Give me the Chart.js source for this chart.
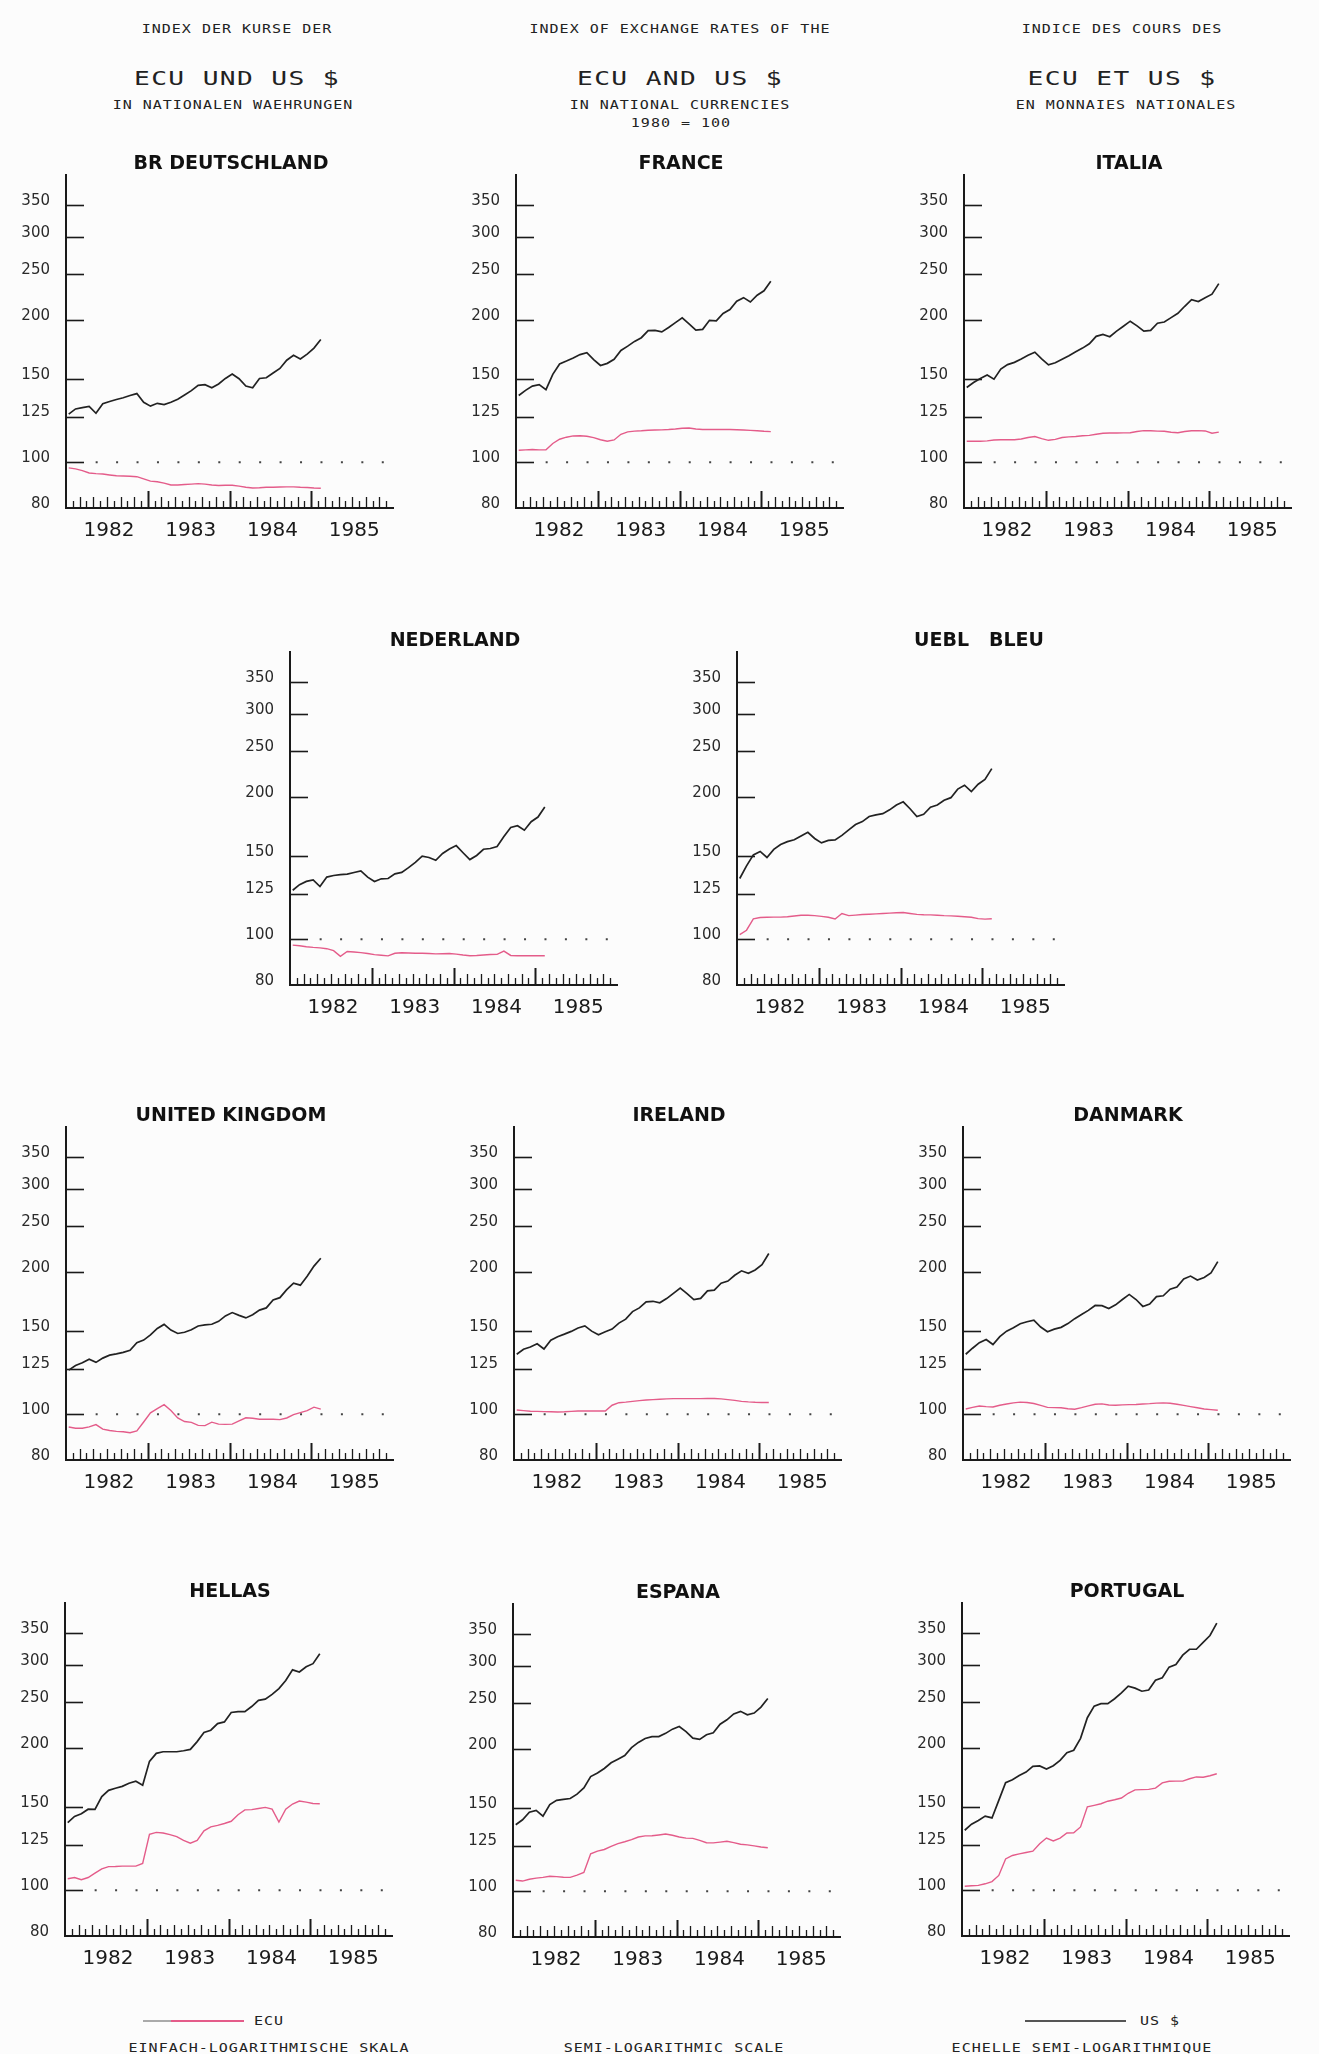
<!DOCTYPE html>
<html>
<head>
<meta charset="utf-8">
<title>ECU und US $</title>
<script src="https://cdn.jsdelivr.net/npm/chart.js@4.4.0/dist/chart.umd.min.js"></script>
<style>
  html, body { margin: 0; padding: 0; }
  body {
    width: 1319px; height: 2054px; position: relative; overflow: hidden;
    background: #fcfcfc; color: #222;
    font-family: "DejaVu Sans Mono", monospace;
  }
  .panel { position: absolute; width: 410px; height: 430px; }
  .txt {
    position: absolute; white-space: pre; line-height: 1;
    font-size: 12px; letter-spacing: 0.8px;
    transform: translate(-50%, -50%) scaleX(1.25);
  }
  .big {
    font-size: 19px; letter-spacing: 1px;
    transform: translate(-50%, -50%) scaleX(1.38);
  }
  .key { position: absolute; height: 2px; }
</style>
</head>
<body>

<!-- header, three languages -->
<div class="txt" style="left:237px;top:29px">INDEX DER KURSE DER</div>
<div class="txt big" style="left:237px;top:78px">ECU UND US $</div>
<div class="txt" style="left:233px;top:105px">IN NATIONALEN WAEHRUNGEN</div>

<div class="txt" style="left:680px;top:29px">INDEX OF EXCHANGE RATES OF THE</div>
<div class="txt big" style="left:680px;top:78px">ECU AND US $</div>
<div class="txt" style="left:680px;top:105px">IN NATIONAL CURRENCIES</div>
<div class="txt" style="left:681px;top:123px">1980 = 100</div>

<div class="txt" style="left:1122px;top:29px">INDICE DES COURS DES</div>
<div class="txt big" style="left:1122px;top:78px">ECU ET US $</div>
<div class="txt" style="left:1126px;top:105px">EN MONNAIES NATIONALES</div>

<!-- legend + footer -->
<div class="key" style="left:143px;top:2020px;width:28px;background:#aaa"></div>
<div class="key" style="left:171px;top:2020px;width:73px;background:#e45c8a"></div>
<div class="txt" style="left:269px;top:2021px">ECU</div>
<div class="key" style="left:1025px;top:2020px;width:101px;background:#555"></div>
<div class="txt" style="left:1160px;top:2021px">US $</div>

<div class="txt" style="left:269px;top:2048px">EINFACH-LOGARITHMISCHE SKALA</div>
<div class="txt" style="left:674px;top:2048px">SEMI-LOGARITHMIC SCALE</div>
<div class="txt" style="left:1082px;top:2048px">ECHELLE SEMI-LOGARITHMIQUE</div>

<script>
// monthly values, Jan 1982 - Feb 1985, index 1980 = 100
const years = ['1982', '1983', '1984', '1985'];
const yTickValues = [80, 100, 125, 150, 200, 250, 300, 350];
const monthPos = Array.from({ length: 38 }, (_, i) => i + 0.4);

const deUsd = [126.5,129.7,130.5,131.3,127,133,134.5,135.8,137,138.5,139.8,134,131.5,133.3,132.5,134,136,138.8,141.8,145.5,146,143.8,146.5,150.5,153.8,150.3,145,143.8,150.5,151,154.5,158,164.5,168.5,165.5,169.5,174.5,182];
const deEcu = [97.3,96.8,96,94.9,94.6,94.4,94,93.6,93.5,93.4,93.2,92.2,91.2,90.9,90.3,89.5,89.5,89.7,89.9,90.1,89.9,89.5,89.3,89.4,89.4,89,88.5,88.2,88.3,88.5,88.5,88.6,88.7,88.7,88.5,88.4,88.2,88.1];

const frUsd = [138.5,142,145,146,142.5,153.5,161.5,163.8,166.3,169.1,170.6,165,160.3,162,165.2,172.5,176.2,180.3,183.6,190,190.3,188.9,193,197.6,202.2,196.5,190.5,191.2,199.8,199.3,206.7,210.6,219.4,223.2,218.5,225.9,230.8,241.8];
const frEcu = [106,106.2,106.4,106.2,106.3,109.6,111.9,113,113.7,113.8,113.5,112.8,111.6,110.8,111.5,114.6,116,116.4,116.6,116.9,117,117.1,117.3,117.6,118,118.2,117.6,117.3,117.3,117.3,117.3,117.3,117.2,117,116.8,116.6,116.3,116.1];

const itUsd = [144,147.5,150.5,153,150,157.5,161,162.8,165.5,168.5,171,165.5,160.8,162.5,165.3,168.2,171.5,174.5,178.2,184.8,186.5,184.5,189.6,194.2,199,194.5,189.5,190.3,197,198.2,202.5,206.8,214,221,219,223.2,227,239];
const itEcu = [110.8,110.8,110.8,111,111.5,111.6,111.6,111.6,112,112.8,113.4,112.2,111.3,111.8,112.8,113.2,113.4,113.8,114,114.6,115.2,115.3,115.3,115.4,115.5,116.2,116.7,116.6,116.4,116.3,115.8,115.5,116.2,116.6,116.7,116.5,115.2,115.8];

const nlUsd = [127,130.5,132.6,133.6,129.3,135.4,136.5,137,137.4,138.5,139.6,135.4,132.5,134.3,134.5,137.6,138.6,141.8,145.5,150,149,147,152,155.3,157.9,152.5,147.5,150.5,155.1,155.7,157.2,165,172.5,174,170.2,177.4,181.5,190.7];
const nlEcu = [97.2,96.9,96.4,96.1,95.9,95.5,94.6,92,94.2,94,93.7,93.3,92.8,92.5,92.2,93.4,93.6,93.5,93.4,93.4,93.3,93.1,93.2,93.3,93,92.6,92.3,92.4,92.6,92.8,92.9,94.4,92.4,92.3,92.3,92.3,92.3,92.3];

const beUsd = [134.5,143,150.9,153.5,149,155,158.8,161,162.5,165.5,168.5,163.5,160,162,162.3,166,170.5,175,177.5,182,183.5,184.5,188,192.5,195.5,189,182,184,190.5,192.5,197,199.5,208,212,205.5,213,218,229.9];
const beEcu = [102.3,104.5,110.5,111.2,111.3,111.4,111.4,111.6,112,112.4,112.4,112.2,111.8,111.3,110.4,113.4,112.2,112.5,112.8,113,113.2,113.4,113.6,113.8,113.9,113.4,112.9,112.7,112.6,112.4,112.2,112.1,111.9,111.6,111.3,110.6,110.3,110.5];

const ukUsd = [124,126.8,128.5,130.8,128.8,131.5,133.4,134.2,135.2,136.6,141.8,143.6,147.3,152,155,150.8,148.3,149.2,151,153.8,154.6,155.1,157.3,161.6,164.2,162,160,162.5,166.2,168,174.6,176.6,183.6,189.6,187.7,196,206,214];
const ukEcu = [94,93.4,93.4,94,95.1,93,92.4,92,91.8,91.4,92.2,96.3,100.7,102.8,104.8,101.8,98.2,96.5,96.1,94.7,94.6,96.2,95.3,95.2,95.3,96.8,98.3,98.1,97.6,97.6,97.6,97.4,98.2,99.8,100.8,101.8,103.5,102.5];

const ieUsd = [134,137.3,138.8,141,137.5,143.5,146,147.8,149.8,152.3,153.9,150,147.3,149.5,151.5,156,159,165,168,173,173.5,172.2,175.8,180.4,185,180.2,174.9,176,182.5,183.2,189.5,191.5,197,201.3,198.9,202.2,207.5,219];
const ieEcu = [102.1,101.8,101.5,101.4,101.3,101.2,101.1,101.2,101.4,101.6,101.6,101.6,101.6,101.6,104.5,105.8,106.1,106.5,106.9,107.2,107.4,107.6,107.8,107.9,107.9,107.9,107.9,107.9,108,108,107.8,107.4,107,106.5,106.2,106,105.9,105.9];

const dkUsd = [134,138,141.8,144,140.5,146,150,152.5,155.5,157,158.3,153,149.6,151.5,152.8,155.6,159.4,162.6,166,170,169.8,167.5,170.5,175,179.4,175,169.2,171.2,177.5,178.2,184,186,193.5,196.2,192.4,194.8,199.2,210.5];
const dkEcu = [102.6,103.4,104.1,103.8,103.6,104.5,105.1,105.7,106.1,105.9,105.4,104.4,103.4,103.3,103.2,102.7,102.5,103.3,104.2,105,105.2,104.6,104.5,104.7,104.8,104.9,105.1,105.3,105.6,105.7,105.5,105,104.4,103.8,103.2,102.6,102.3,102];

const grUsd = [139,143.3,145.2,148.5,148.3,157.9,162.8,164.5,166,168.5,170.2,167,187.5,195,196.5,196.5,196.5,197.5,198.8,206.5,216,218.3,225.5,227.3,238,239,239,245,252.5,254,260,267.5,278.2,293,290,297.5,302,317];
const grEcu = [105.8,106.4,105.3,106.4,108.7,111,112.2,112.3,112.5,112.5,112.5,114,131.4,132.6,132.2,131.2,129.9,127.5,125.8,127.5,133.6,136.2,137.2,138.5,140,144.5,148,148.2,149,149.8,148.5,139.5,148.5,152.3,154.5,153.7,152.7,152.5];

const esUsd = [138.3,141.7,147,148.4,144.2,152.6,155.8,156.6,157.2,160.6,165.6,175,178,182,187.1,190.5,193.8,201.5,206.7,210.7,212.6,212.6,216,220.5,223.3,217.8,211,209.8,214.6,216.7,225.9,230.8,237.5,240.5,236.4,238.5,245.5,256];
const esEcu = [105.5,105.1,106,106.6,107,107.6,107.4,107.1,107,108.2,109.6,120,121.6,122.6,124.5,126.2,127.3,128.6,130.3,131,131.1,131.6,132.2,131.4,130.3,129.6,129.4,128.2,126.7,126.6,127.1,127.6,126.8,125.8,125.4,124.8,124.1,123.6];

const ptUsd = [134,138,140.5,143.6,142.3,155,169,171.5,175,178,183,183.4,180.6,183.6,188.4,195.6,198,209.8,232,245.5,248.5,248.5,254.5,262,270.5,268,264,265.5,278.5,282,297,300.8,314.8,324,324,335,346.5,368];
const ptEcu = [102,102.2,102.4,103.2,104.3,107.5,116.5,118.5,119.4,120.2,121,125.5,129,127.2,129,132.2,132.3,136.2,150.2,151.3,152.5,154.4,155.5,156.8,160.5,163.2,163.4,163.6,164.6,168.8,170.2,170.3,170.3,172.3,173.8,173.5,174.8,176.5];

// ox/oy = where the two axes meet on the page
const panels = [
  { title: 'BR DEUTSCHLAND', usd: deUsd, ecu: deEcu, ox: 66,  oy: 508 },
  { title: 'FRANCE',         usd: frUsd, ecu: frEcu, ox: 516, oy: 508 },
  { title: 'ITALIA',         usd: itUsd, ecu: itEcu, ox: 964, oy: 508 },
  { title: 'NEDERLAND',      usd: nlUsd, ecu: nlEcu, ox: 290, oy: 985 },
  { title: 'UEBL   BLEU',    usd: beUsd, ecu: beEcu, ox: 737, oy: 985, dx: 242 },
  { title: 'UNITED KINGDOM', usd: ukUsd, ecu: ukEcu, ox: 66,  oy: 1460 },
  { title: 'IRELAND',        usd: ieUsd, ecu: ieEcu, ox: 514, oy: 1460 },
  { title: 'DANMARK',        usd: dkUsd, ecu: dkEcu, ox: 963, oy: 1460 },
  { title: 'HELLAS',         usd: grUsd, ecu: grEcu, ox: 65,  oy: 1936 },
  { title: 'ESPANA',         usd: esUsd, ecu: esEcu, ox: 513, oy: 1937 },
  { title: 'PORTUGAL',       usd: ptUsd, ecu: ptEcu, ox: 962, oy: 1936 }
];

const INK = '#1a1a1a';
const ECU_PINK = '#e45c8a';

// inward tick marks, month ticks, the dotted 100 line and the country name
const frameMarks = {
  id: 'frameMarks',
  beforeDatasetsDraw(chart) {
    const { ctx, chartArea: a, scales: { x, y } } = chart;
    ctx.save();
    ctx.strokeStyle = INK;
    ctx.lineWidth = 1.6;
    yTickValues.forEach(v => {
      if (v === 80) return;
      const py = Math.round(y.getPixelForValue(v)) + 0.5;
      ctx.beginPath();
      ctx.moveTo(a.left, py);
      ctx.lineTo(a.left + 18, py);
      ctx.stroke();
    });
    for (let m = 1; m < 48; m++) {
      const px = Math.round(x.getPixelForValue(m)) + 0.5;
      const big = m % 12 === 0;
      const h = big ? 17 : (m % 2 === 0 ? 11 : 7);
      ctx.lineWidth = big ? 2 : 1.3;
      ctx.beginPath();
      ctx.moveTo(px, a.bottom);
      ctx.lineTo(px, a.bottom - h);
      ctx.stroke();
    }
    ctx.fillStyle = '#444';
    const p100 = y.getPixelForValue(100);
    for (let m = 4.5; m < 48; m += 3) {
      ctx.fillRect(x.getPixelForValue(m) - 1, p100 - 1, 2, 2);
    }
    ctx.restore();
  },
  afterDraw(chart, args, opts) {
    const { ctx, chartArea: a } = chart;
    ctx.save();
    ctx.font = 'bold 19px "DejaVu Sans"';
    ctx.fillStyle = '#111';
    ctx.textAlign = 'center';
    ctx.textBaseline = 'middle';
    ctx.fillText(opts.title, a.left + opts.dx, a.top - 11);
    ctx.restore();
  }
};

panels.forEach(p => {
  const box = document.createElement('div');
  box.className = 'panel';
  box.style.left = (p.ox - 66) + 'px';
  box.style.top = (p.oy - 380) + 'px';
  const cv = document.createElement('canvas');
  cv.width = 410;
  cv.height = 430;
  box.appendChild(cv);
  document.body.appendChild(box);

  new Chart(cv, {
    type: 'line',
    data: {
      datasets: [
        {
          label: 'US $',
          data: p.usd.map((v, i) => ({ x: monthPos[i], y: v })),
          borderColor: '#222',
          borderWidth: 1.7,
          pointRadius: 0,
          tension: 0
        },
        {
          label: 'ECU',
          data: p.ecu.map((v, i) => ({ x: monthPos[i], y: v })),
          borderColor: ECU_PINK,
          borderWidth: 1.4,
          pointRadius: 0,
          tension: 0
        }
      ]
    },
    options: {
      responsive: false,
      animation: false,
      events: [],
      layout: { padding: { top: 47, right: 17, left: 0, bottom: 0 } },
      plugins: {
        legend: { display: false },
        tooltip: { enabled: false },
        frameMarks: { title: p.title, dx: p.dx || 165 }
      },
      scales: {
        x: {
          type: 'linear',
          min: 0,
          max: 48,
          afterBuildTicks: s => { s.ticks = years.map((_, i) => ({ value: i * 12 + 6.3 })); },
          afterFit: s => { s.height = 50; },
          grid: { display: true, drawOnChartArea: false, drawTicks: false },
          border: { display: true, color: INK, width: 2 },
          ticks: {
            autoSkip: false,
            maxRotation: 0,
            padding: 11,
            color: '#1a1a1a',
            font: { family: 'DejaVu Sans', size: 20 },
            callback: (v, i) => years[i]
          }
        },
        y: {
          type: 'logarithmic',
          min: 80,
          max: 406,
          afterBuildTicks: s => { s.ticks = yTickValues.map(v => ({ value: v })); },
          afterFit: s => { s.width = 66; },
          grid: { display: true, drawOnChartArea: false, drawTicks: false },
          border: { display: true, color: INK, width: 2 },
          ticks: {
            autoSkip: false,
            padding: 16,
            labelOffset: -4,
            color: '#2a2a2a',
            font: { family: 'DejaVu Sans', size: 15 },
            callback: v => String(v)
          }
        }
      }
    },
    plugins: [frameMarks]
  });
});
</script>
</body>
</html>
